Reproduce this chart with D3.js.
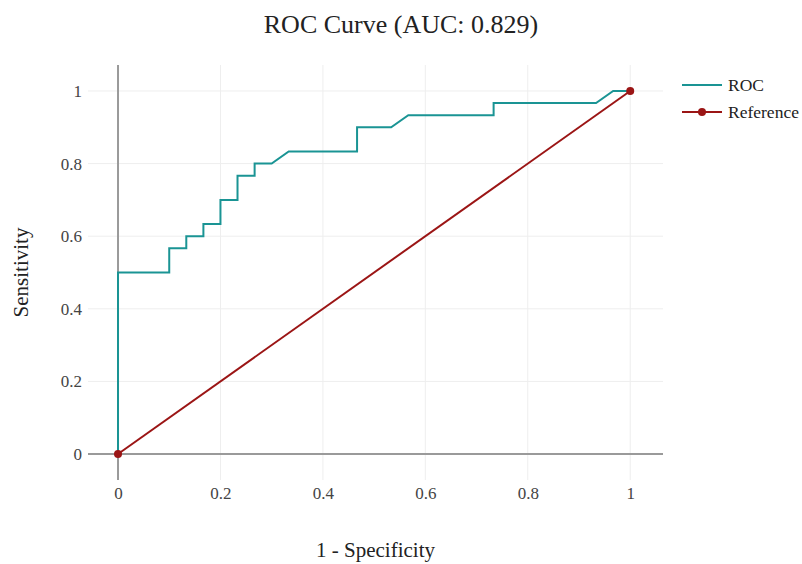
<!DOCTYPE html>
<html>
<head>
<meta charset="utf-8">
<script src="https://cdn.jsdelivr.net/npm/d3@7/dist/d3.min.js"></script>
<style>
  body { margin: 0; background: #fff; }
  svg text { font-family: "Liberation Serif", "Times New Roman", serif; fill: #444; }
</style>
</head>
<body>
<div id="chart"></div>
<script>
// ROC curve points (1 - specificity, sensitivity)
var rocFpr = [0, 0, 0.1, 0.1, 0.1333, 0.1333, 0.1667, 0.1667, 0.2, 0.2, 0.2333, 0.2333, 0.2667, 0.2667, 0.3, 0.3333, 0.4667, 0.4667, 0.5333, 0.5667, 0.7333, 0.7333, 0.9333, 0.9667, 1];
var rocTpr = [0, 0.5, 0.5, 0.5667, 0.5667, 0.6, 0.6, 0.6333, 0.6333, 0.7, 0.7, 0.7667, 0.7667, 0.8, 0.8, 0.8333, 0.8333, 0.9, 0.9, 0.9333, 0.9333, 0.9667, 0.9667, 1, 1];
var refX = [0, 1];
var refY = [0, 1];
var ticks = [0, 0.2, 0.4, 0.6, 0.8, 1];
var seriesNames = ["ROC", "Reference"];
var auc = 0.829;

var width = 802, height = 564;
var margin = {top: 65, right: 139, bottom: 84, left: 88};
var plotW = width - margin.left - margin.right;
var plotH = height - margin.top - margin.bottom;

var rocColor = "#1a9494";
var refColor = "#9b1515";

var svg = d3.select("#chart").append("svg")
    .attr("width", width)
    .attr("height", height);

var x = d3.scaleLinear().domain([-0.0586, 1.064]).range([0, plotW]);
var y = d3.scaleLinear().domain([-0.0716, 1.0716]).range([plotH, 0]);

var g = svg.append("g")
    .attr("transform", "translate(" + margin.left + "," + margin.top + ")");

//grid lines
g.selectAll(".vgrid")
    .data(ticks.filter(function(d){ return d != 0; }))
    .enter().append("line")
    .attr("x1", function(d){ return x(d); })
    .attr("x2", function(d){ return x(d); })
    .attr("y1", 0).attr("y2", plotH)
    .style("stroke", "#eeeeee").style("stroke-width", 1);

g.selectAll(".hgrid")
    .data(ticks.filter(function(d){ return d != 0; }))
    .enter().append("line")
    .attr("y1", function(d){ return y(d); })
    .attr("y2", function(d){ return y(d); })
    .attr("x1", 0).attr("x2", plotW)
    .style("stroke", "#eeeeee").style("stroke-width", 1);

//zero lines
g.append("line")
    .attr("x1", x(0)).attr("x2", x(0))
    .attr("y1", 0).attr("y2", plotH)
    .style("stroke", "#9a9a9a").style("stroke-width", 2);
g.append("line")
    .attr("y1", y(0)).attr("y2", y(0))
    .attr("x1", 0).attr("x2", plotW)
    .style("stroke", "#9a9a9a").style("stroke-width", 2);

//axes (labels only)
var xAxis = d3.axisBottom(x).tickValues(ticks).tickSize(0).tickPadding(0)
    .tickFormat(function(d){ return d3.format("")(d); });
var yAxis = d3.axisLeft(y).tickValues(ticks).tickSize(0).tickPadding(0)
    .tickFormat(function(d){ return d3.format("")(d); });

var gx = g.append("g")
    .attr("transform", "translate(0," + (plotH + 7) + ")")
    .call(xAxis);
var gy = g.append("g")
    .attr("transform", "translate(-6,0)")
    .call(yAxis);
[gx, gy].forEach(function(a){
    a.select(".domain").remove();
    a.selectAll("text")
        .style("font-family", "'Liberation Serif', 'Times New Roman', serif")
        .style("font-size", "17px")
        .style("fill", "#444");
});

//series
var line = d3.line()
    .x(function(d){ return x(d[0]); })
    .y(function(d){ return y(d[1]); });

var rocData = rocFpr.map(function(v, i){ return [v, rocTpr[i]]; });
var refData = refX.map(function(v, i){ return [v, refY[i]]; });

g.append("path")
    .datum(rocData)
    .attr("d", line)
    .style("fill", "none")
    .style("stroke", rocColor)
    .style("stroke-width", 2);

g.append("path")
    .datum(refData)
    .attr("d", line)
    .style("fill", "none")
    .style("stroke", refColor)
    .style("stroke-width", 2);

g.selectAll(".refpt")
    .data(refData)
    .enter().append("circle")
    .attr("cx", function(d){ return x(d[0]); })
    .attr("cy", function(d){ return y(d[1]); })
    .attr("r", 4)
    .style("fill", refColor);

//title
svg.append("text")
    .text("ROC Curve (AUC: " + auc + ")")
    .attr("x", width / 2)
    .attr("y", 33)
    .attr("text-anchor", "middle")
    .style("font-size", "26px")
    .style("fill", "#222");

svg.append("text")
    .text("1 - Specificity")
    .attr("x", margin.left + plotW / 2)
    .attr("y", 557)
    .attr("text-anchor", "middle")
    .style("font-size", "21px")
    .style("fill", "#222");

svg.append("text")
    .text("Sensitivity")
    .attr("transform", "translate(28," + (margin.top + plotH / 2) + ") rotate(-90)")
    .attr("text-anchor", "middle")
    .style("font-size", "21px")
    .style("fill", "#222");

//legend
var legend = svg.append("g").attr("transform", "translate(682,85)");
var items = legend.selectAll("g")
    .data(seriesNames)
    .enter().append("g")
    .attr("transform", function(d, i){ return "translate(0," + (i * 27) + ")"; });
items.append("line")
    .attr("x1", 0).attr("x2", 40)
    .style("stroke", function(d, i){ return i == 0 ? rocColor : refColor; })
    .style("stroke-width", 2);
items.filter(function(d, i){ return i == 1; })
    .append("circle")
    .attr("cx", 20).attr("r", 4)
    .style("fill", refColor);
items.append("text")
    .text(function(d){ return d; })
    .attr("x", 46)
    .attr("y", 6)
    .style("font-size", "17.5px")
    .style("fill", "#222");
</script>
</body>
</html>
